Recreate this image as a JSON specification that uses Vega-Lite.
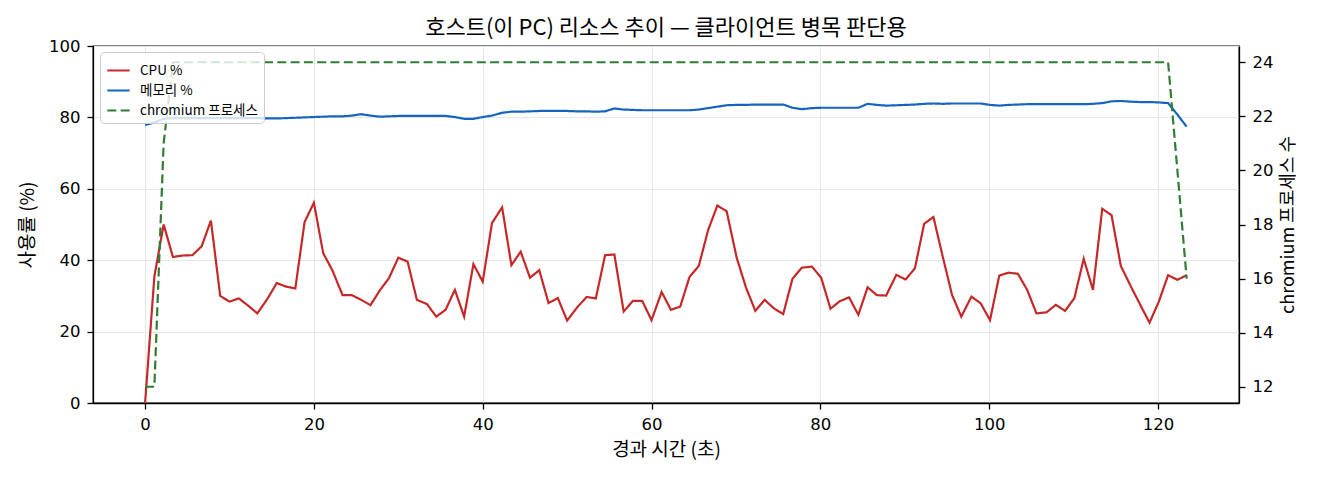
{
  "$schema": "https://vega.github.io/schema/vega-lite/v6.json",
  "width": 1146,
  "height": 357,
  "autosize": {"type": "none"},
  "padding": {"left": 93, "top": 46, "right": 81, "bottom": 77},
  "background": "white",
  "title": {
    "text": "호스트(이 PC) 리소스 추이 — 클라이언트 병목 판단용",
    "fontSize": 22,
    "fontWeight": "normal",
    "font": "Noto Sans CJK KR",
    "color": "black",
    "anchor": "middle",
    "offset": -2
  },
  "config": {
    "font": "Noto Sans CJK KR",
    "view": {"stroke": "black", "strokeWidth": 1.3},
    "axis": {
      "domainColor": "black",
      "domainWidth": 1.3,
      "tickColor": "black",
      "tickWidth": 1.3,
      "tickSize": 6,
      "labelFontSize": 16.5,
      "labelColor": "black",
      "labelFont": "DejaVu Sans",
      "labelPadding": 7,
      "titleFontSize": 19,
      "titleFont": "Noto Sans CJK KR",
      "titleFontWeight": "normal",
      "titleColor": "black",
      "gridColor": "#e6e6e6",
      "gridWidth": 1
    }
  },
  "datasets": {
    "host": [
      {"t": 0.0, "cpu": 0.0, "mem": 77.9, "proc": 12},
      {"t": 1.1, "cpu": 35.4, "mem": 78.6, "proc": 12},
      {"t": 2.2, "cpu": 50.0, "mem": 79.6, "proc": 21},
      {"t": 3.3, "cpu": 40.9, "mem": 79.8, "proc": 24},
      {"t": 4.4, "cpu": 41.3, "mem": 79.8, "proc": 24},
      {"t": 5.6, "cpu": 41.4, "mem": 79.8, "proc": 24},
      {"t": 6.7, "cpu": 43.9, "mem": 79.8, "proc": 24},
      {"t": 7.8, "cpu": 51.1, "mem": 79.8, "proc": 24},
      {"t": 8.9, "cpu": 30.0, "mem": 79.8, "proc": 24},
      {"t": 10.0, "cpu": 28.4, "mem": 79.8, "proc": 24},
      {"t": 11.1, "cpu": 29.3, "mem": 79.8, "proc": 24},
      {"t": 12.2, "cpu": 27.3, "mem": 79.8, "proc": 24},
      {"t": 13.3, "cpu": 25.1, "mem": 79.8, "proc": 24},
      {"t": 14.5, "cpu": 29.2, "mem": 79.7, "proc": 24},
      {"t": 15.6, "cpu": 33.6, "mem": 79.7, "proc": 24},
      {"t": 16.7, "cpu": 32.6, "mem": 79.8, "proc": 24},
      {"t": 17.8, "cpu": 32.1, "mem": 79.9, "proc": 24},
      {"t": 18.9, "cpu": 50.7, "mem": 80.0, "proc": 24},
      {"t": 20.0, "cpu": 56.1, "mem": 80.1, "proc": 24},
      {"t": 21.1, "cpu": 42.0, "mem": 80.2, "proc": 24},
      {"t": 22.2, "cpu": 37.1, "mem": 80.3, "proc": 24},
      {"t": 23.4, "cpu": 30.2, "mem": 80.3, "proc": 24},
      {"t": 24.5, "cpu": 30.2, "mem": 80.5, "proc": 24},
      {"t": 25.6, "cpu": 28.9, "mem": 80.9, "proc": 24},
      {"t": 26.7, "cpu": 27.4, "mem": 80.5, "proc": 24},
      {"t": 27.8, "cpu": 31.5, "mem": 80.2, "proc": 24},
      {"t": 28.9, "cpu": 35.0, "mem": 80.3, "proc": 24},
      {"t": 30.0, "cpu": 40.7, "mem": 80.4, "proc": 24},
      {"t": 31.1, "cpu": 39.6, "mem": 80.4, "proc": 24},
      {"t": 32.2, "cpu": 28.9, "mem": 80.4, "proc": 24},
      {"t": 33.4, "cpu": 27.7, "mem": 80.4, "proc": 24},
      {"t": 34.5, "cpu": 24.2, "mem": 80.4, "proc": 24},
      {"t": 35.6, "cpu": 26.1, "mem": 80.4, "proc": 24},
      {"t": 36.7, "cpu": 31.7, "mem": 80.1, "proc": 24},
      {"t": 37.8, "cpu": 24.2, "mem": 79.6, "proc": 24},
      {"t": 38.9, "cpu": 38.9, "mem": 79.6, "proc": 24},
      {"t": 40.0, "cpu": 34.0, "mem": 80.1, "proc": 24},
      {"t": 41.1, "cpu": 50.4, "mem": 80.5, "proc": 24},
      {"t": 42.3, "cpu": 54.8, "mem": 81.3, "proc": 24},
      {"t": 43.4, "cpu": 38.6, "mem": 81.6, "proc": 24},
      {"t": 44.5, "cpu": 42.4, "mem": 81.6, "proc": 24},
      {"t": 45.6, "cpu": 35.1, "mem": 81.7, "proc": 24},
      {"t": 46.7, "cpu": 37.2, "mem": 81.8, "proc": 24},
      {"t": 47.8, "cpu": 28.0, "mem": 81.8, "proc": 24},
      {"t": 48.9, "cpu": 29.4, "mem": 81.8, "proc": 24},
      {"t": 50.0, "cpu": 23.1, "mem": 81.8, "proc": 24},
      {"t": 51.2, "cpu": 26.8, "mem": 81.7, "proc": 24},
      {"t": 52.3, "cpu": 29.7, "mem": 81.7, "proc": 24},
      {"t": 53.4, "cpu": 29.3, "mem": 81.6, "proc": 24},
      {"t": 54.5, "cpu": 41.4, "mem": 81.7, "proc": 24},
      {"t": 55.6, "cpu": 41.6, "mem": 82.5, "proc": 24},
      {"t": 56.7, "cpu": 25.6, "mem": 82.2, "proc": 24},
      {"t": 57.8, "cpu": 28.6, "mem": 82.1, "proc": 24},
      {"t": 58.9, "cpu": 28.6, "mem": 82.0, "proc": 24},
      {"t": 60.0, "cpu": 23.2, "mem": 82.0, "proc": 24},
      {"t": 61.2, "cpu": 31.1, "mem": 82.0, "proc": 24},
      {"t": 62.3, "cpu": 26.1, "mem": 82.0, "proc": 24},
      {"t": 63.4, "cpu": 27.0, "mem": 82.0, "proc": 24},
      {"t": 64.5, "cpu": 35.3, "mem": 82.0, "proc": 24},
      {"t": 65.6, "cpu": 38.4, "mem": 82.2, "proc": 24},
      {"t": 66.7, "cpu": 48.4, "mem": 82.6, "proc": 24},
      {"t": 67.8, "cpu": 55.3, "mem": 83.0, "proc": 24},
      {"t": 68.9, "cpu": 53.7, "mem": 83.4, "proc": 24},
      {"t": 70.1, "cpu": 40.6, "mem": 83.5, "proc": 24},
      {"t": 71.2, "cpu": 32.3, "mem": 83.5, "proc": 24},
      {"t": 72.3, "cpu": 25.8, "mem": 83.6, "proc": 24},
      {"t": 73.4, "cpu": 28.9, "mem": 83.6, "proc": 24},
      {"t": 74.5, "cpu": 26.5, "mem": 83.6, "proc": 24},
      {"t": 75.6, "cpu": 24.9, "mem": 83.6, "proc": 24},
      {"t": 76.7, "cpu": 34.8, "mem": 82.7, "proc": 24},
      {"t": 77.8, "cpu": 37.9, "mem": 82.3, "proc": 24},
      {"t": 79.0, "cpu": 38.2, "mem": 82.6, "proc": 24},
      {"t": 80.1, "cpu": 35.1, "mem": 82.7, "proc": 24},
      {"t": 81.2, "cpu": 26.4, "mem": 82.7, "proc": 24},
      {"t": 82.3, "cpu": 28.5, "mem": 82.7, "proc": 24},
      {"t": 83.4, "cpu": 29.6, "mem": 82.7, "proc": 24},
      {"t": 84.5, "cpu": 24.7, "mem": 82.7, "proc": 24},
      {"t": 85.6, "cpu": 32.4, "mem": 83.8, "proc": 24},
      {"t": 86.7, "cpu": 30.2, "mem": 83.5, "proc": 24},
      {"t": 87.8, "cpu": 30.1, "mem": 83.3, "proc": 24},
      {"t": 89.0, "cpu": 35.9, "mem": 83.4, "proc": 24},
      {"t": 90.1, "cpu": 34.6, "mem": 83.5, "proc": 24},
      {"t": 91.2, "cpu": 37.7, "mem": 83.6, "proc": 24},
      {"t": 92.3, "cpu": 50.2, "mem": 83.8, "proc": 24},
      {"t": 93.4, "cpu": 52.1, "mem": 83.9, "proc": 24},
      {"t": 94.5, "cpu": 41.0, "mem": 83.8, "proc": 24},
      {"t": 95.6, "cpu": 30.3, "mem": 83.9, "proc": 24},
      {"t": 96.7, "cpu": 24.2, "mem": 83.9, "proc": 24},
      {"t": 97.9, "cpu": 29.8, "mem": 83.9, "proc": 24},
      {"t": 99.0, "cpu": 27.9, "mem": 83.9, "proc": 24},
      {"t": 100.1, "cpu": 23.2, "mem": 83.5, "proc": 24},
      {"t": 101.2, "cpu": 35.7, "mem": 83.3, "proc": 24},
      {"t": 102.3, "cpu": 36.5, "mem": 83.5, "proc": 24},
      {"t": 103.4, "cpu": 36.2, "mem": 83.6, "proc": 24},
      {"t": 104.5, "cpu": 31.7, "mem": 83.7, "proc": 24},
      {"t": 105.6, "cpu": 25.1, "mem": 83.7, "proc": 24},
      {"t": 106.8, "cpu": 25.4, "mem": 83.7, "proc": 24},
      {"t": 107.9, "cpu": 27.5, "mem": 83.7, "proc": 24},
      {"t": 109.0, "cpu": 25.8, "mem": 83.7, "proc": 24},
      {"t": 110.1, "cpu": 29.4, "mem": 83.7, "proc": 24},
      {"t": 111.2, "cpu": 40.4, "mem": 83.7, "proc": 24},
      {"t": 112.3, "cpu": 31.7, "mem": 83.8, "proc": 24},
      {"t": 113.4, "cpu": 54.4, "mem": 84.0, "proc": 24},
      {"t": 114.5, "cpu": 52.6, "mem": 84.5, "proc": 24},
      {"t": 115.6, "cpu": 38.4, "mem": 84.6, "proc": 24},
      {"t": 116.8, "cpu": 32.6, "mem": 84.4, "proc": 24},
      {"t": 117.9, "cpu": 27.5, "mem": 84.3, "proc": 24},
      {"t": 119.0, "cpu": 22.5, "mem": 84.3, "proc": 24},
      {"t": 120.1, "cpu": 28.4, "mem": 84.2, "proc": 24},
      {"t": 121.2, "cpu": 35.8, "mem": 84.0, "proc": 24},
      {"t": 122.3, "cpu": 34.5, "mem": 80.8, "proc": 20},
      {"t": 123.4, "cpu": 35.8, "mem": 77.4, "proc": 16}
    ]
  },
  "data": {"name": "host"},
  "layer": [
    {
      "transform": [{"fold": ["cpu", "mem"], "as": ["series", "value"]}],
      "mark": {"type": "line", "strokeWidth": 2.2, "clip": true},
      "encoding": {
        "x": {
          "field": "t", "type": "quantitative",
          "scale": {"domain": [-6.17, 129.6], "nice": false, "zero": false},
          "axis": {"title": "경과 시간 (초)", "values": [0, 20, 40, 60, 80, 100, 120], "grid": true, "titlePadding": 8}
        },
        "y": {
          "field": "value", "type": "quantitative",
          "scale": {"domain": [0, 100], "nice": false},
          "axis": {"title": "사용률 (%)", "values": [0, 20, 40, 60, 80, 100], "grid": true, "orient": "left", "titlePadding": 11}
        },
        "color": {
          "field": "series", "type": "nominal",
          "scale": {"domain": ["cpu", "mem", "proc"], "range": ["#c62828", "#1565c0", "#2e7d32"]},
          "legend": {
            "title": null, "orient": "none", "legendX": 7, "legendY": 6,
            "symbolType": "stroke", "symbolSize": 500, "symbolStrokeWidth": 2.2,
            "labelFontSize": 13.5, "labelFont": "Noto Sans CJK KR", "labelColor": "black", "labelOffset": 9,
            "rowPadding": 1, "padding": 6, "strokeColor": "#cccccc", "fillColor": "rgba(255,255,255,0.8)", "cornerRadius": 4,
            "labelExpr": "datum.label == 'cpu' ? 'CPU %' : datum.label == 'mem' ? '메모리 %' : 'chromium 프로세스'"
          }
        },
        "strokeDash": {
          "field": "series", "type": "nominal",
          "scale": {"domain": ["cpu", "mem", "proc"], "range": [[1, 0], [1, 0], [9, 4.3]]},
          "legend": {
            "title": null, "orient": "none", "legendX": 7, "legendY": 6,
            "symbolType": "stroke", "symbolSize": 500, "symbolStrokeWidth": 2.2,
            "labelFontSize": 13.5, "labelFont": "Noto Sans CJK KR", "labelColor": "black", "labelOffset": 9,
            "rowPadding": 1, "padding": 6, "strokeColor": "#cccccc", "fillColor": "rgba(255,255,255,0.8)", "cornerRadius": 4,
            "labelExpr": "datum.label == 'cpu' ? 'CPU %' : datum.label == 'mem' ? '메모리 %' : 'chromium 프로세스'"
          }
        }
      }
    },
    {
      "transform": [{"fold": ["proc"], "as": ["series", "value"]}],
      "mark": {"type": "line", "strokeWidth": 2.2, "clip": true},
      "encoding": {
        "x": {
          "field": "t", "type": "quantitative",
          "scale": {"domain": [-6.17, 129.6], "nice": false, "zero": false},
          "axis": {"title": "경과 시간 (초)", "values": [0, 20, 40, 60, 80, 100, 120], "grid": true, "titlePadding": 8}
        },
        "y": {
          "field": "value", "type": "quantitative",
          "scale": {"domain": [11.4, 24.6], "nice": false, "zero": false},
          "axis": {"title": "chromium 프로세스 수", "values": [12, 14, 16, 18, 20, 22, 24], "grid": false, "orient": "right", "titleAngle": 270, "titleBaseline": "top", "titleFontSize": 18, "titlePadding": 7}
        },
        "color": {"field": "series", "type": "nominal"},
        "strokeDash": {"field": "series", "type": "nominal"}
      }
    }
  ],
  "resolve": {"scale": {"y": "independent"}}
}
